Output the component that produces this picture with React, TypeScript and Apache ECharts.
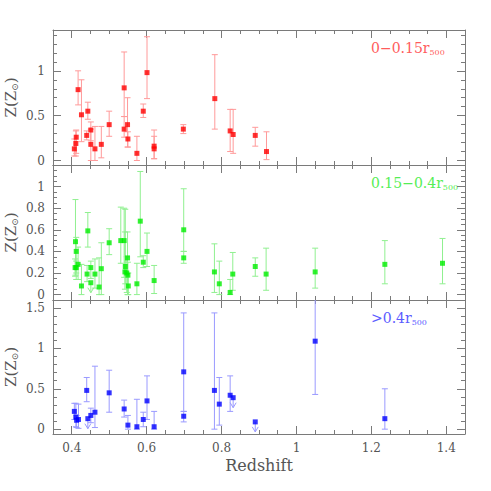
import React, { useEffect, useRef } from "react";
import * as echarts from "echarts";

// [redshift, Z, lowErr, highErr]
const coreData: number[][] = [
  [0.407, 0.13, 0.05, 0.24], [0.411, 0.19, 0.05, 0.33], [0.412, 0.26, 0.08, 0.34],
  [0.417, 0.79, 0.62, 1.0], [0.426, 0.51, 0.21, 0.9], [0.44, 0.28, 0.23, 0.33],
  [0.443, 0.55, 0.46, 0.65], [0.451, 0.18, 0.0, 0.35], [0.451, 0.34, 0.22, 0.43],
  [0.462, 0.13, 0.0, 0.38], [0.479, 0.18, 0.03, 0.38], [0.5, 0.4, 0.27, 0.55],
  [0.54, 0.81, 0.49, 1.21], [0.54, 0.35, 0.26, 0.49], [0.549, 0.4, 0.15, 0.7],
  [0.55, 0.24, 0.15, 0.32], [0.574, 0.08, 0.0, 0.27], [0.591, 0.55, 0.48, 0.63],
  [0.601, 0.98, 0.69, 1.38], [0.62, 0.16, 0.02, 0.34], [0.62, 0.13, 0.02, 0.27],
  [0.698, 0.35, 0.3, 0.4], [0.782, 0.69, 0.35, 1.18], [0.823, 0.33, 0.1, 0.57],
  [0.831, 0.29, 0.08, 0.57], [0.89, 0.28, 0.16, 0.37], [0.92, 0.1, 0.01, 0.32],
];
const coreLimits: number[][] = [];

const midData: number[][] = [
  [0.409, 0.25, 0.17, 0.33], [0.41, 0.49, 0.18, 0.88], [0.412, 0.4, 0.14, 0.53],
  [0.412, 0.25, 0.2, 0.31], [0.417, 0.28, 0.14, 0.44], [0.426, 0.08, 0.0, 0.28],
  [0.441, 0.19, 0.12, 0.27], [0.443, 0.59, 0.44, 0.76], [0.451, 0.25, 0.15, 0.31],
  [0.462, 0.19, 0.06, 0.33], [0.473, 0.07, 0.0, 0.34], [0.479, 0.24, 0.0, 0.48],
  [0.5, 0.48, 0.37, 0.61], [0.531, 0.5, 0.29, 0.81], [0.54, 0.5, 0.16, 0.8],
  [0.543, 0.26, 0.1, 0.79], [0.542, 0.21, 0.05, 0.58], [0.547, 0.2, 0.02, 0.35],
  [0.549, 0.34, 0.0, 0.58], [0.55, 0.18, 0.0, 0.3], [0.551, 0.08, 0.0, 0.2],
  [0.574, 0.1, 0.0, 0.29], [0.583, 0.68, 0.35, 1.14], [0.591, 0.3, 0.25, 0.36],
  [0.601, 0.4, 0.26, 0.57], [0.62, 0.13, 0.01, 0.27], [0.699, 0.34, 0.29, 0.4],
  [0.699, 0.6, 0.4, 0.98], [0.781, 0.21, 0.02, 0.47], [0.794, 0.1, 0.0, 0.31],
  [0.823, 0.02, 0.0, 0.14], [0.83, 0.19, 0.04, 0.39], [0.89, 0.26, 0.17, 0.34],
  [0.919, 0.19, 0.04, 0.43], [1.05, 0.21, 0.06, 0.43], [1.236, 0.28, 0.1, 0.5],
  [1.39, 0.29, 0.1, 0.52],
];
const midLimits: number[][] = [[0.451, 0.11]];

const outerData: number[][] = [
  [0.407, 0.22, 0.12, 0.32], [0.411, 0.15, 0.03, 0.32], [0.413, 0.11, 0.02, 0.17],
  [0.418, 0.12, 0.01, 0.31], [0.44, 0.48, 0.34, 0.64], [0.451, 0.17, 0.08, 0.26],
  [0.462, 0.21, 0.02, 0.78], [0.5, 0.45, 0.21, 0.73], [0.54, 0.25, 0.15, 0.36],
  [0.55, 0.05, 0.0, 0.17], [0.574, 0.03, 0.0, 0.37], [0.591, 0.12, 0.03, 0.21],
  [0.601, 0.35, 0.12, 0.66], [0.62, 0.03, 0.0, 0.22], [0.699, 0.16, 0.09, 0.22],
  [0.699, 0.71, 0.22, 1.44], [0.781, 0.48, 0.0, 1.44], [0.794, 0.31, 0.05, 0.64],
  [0.823, 0.42, 0.22, 0.66], [1.05, 1.09, 0.43, 1.7], [1.236, 0.13, 0.0, 0.5],
];
const outerLimits: number[][] = [[0.443, 0.13], [0.831, 0.39], [0.89, 0.09]];

const xMajorTicks = [0.4, 0.6, 0.8, 1, 1.2, 1.4];
const yMajorTicks = [
  [0, 0.5, 1],
  [0, 0.2, 0.4, 0.6, 0.8, 1],
  [0, 0.5, 1, 1.5],
];
const panelLabels = ["0\u22120.15r", "0.15\u22120.4r", ">0.4r"];

const FONT = "DejaVu Serif";
const AXIS = "#7a7a7a";
const TXT = "#555555";

function steps(a: number, b: number, s: number) {
  const out: number[] = [];
  const n = Math.round((b - a) / s);
  for (let i = 0; i <= n; i++) out.push(+(a + s * i).toFixed(3));
  return out;
}

export default function App() {
  const ref = useRef<HTMLDivElement>(null);
  useEffect(() => {
    if (!ref.current) return;
    const chart = echarts.init(ref.current, undefined, { renderer: "svg" });
    const grids = [
      { left: 53, top: 30, width: 412, height: 135 },
      { left: 53, top: 165, width: 412, height: 135 },
      { left: 53, top: 300, width: 412, height: 134 },
    ];
    const yRanges = [
      [-0.05, 1.455],
      [-0.05, 1.2],
      [-0.06, 1.6],
    ];
    const yMinor = [steps(0, 1.4, 0.1), steps(0, 1.15, 0.05), steps(0, 1.6, 0.1)];
    const xMinor = steps(0.35, 1.45, 0.05);
    const colors = [
      { pt: "#ff0000", err: "#ff9a9a", txt: "#ff5c5c" },
      { pt: "#00ee00", err: "#90f090", txt: "#55ee55" },
      { pt: "#0000ff", err: "#9a9aff", txt: "#5c5cff" },
    ];
    const datas = [coreData, midData, outerData];
    const limits = [coreLimits, midLimits, outerLimits];

    const xAxis: any[] = [];
    const yAxis: any[] = [];
    const series: any[] = [];
    const graphic: any[] = [];

    grids.forEach((g, i) => {
      const baseX = { type: "value", gridIndex: i, min: 0.35, max: 1.45, splitLine: { show: false } };
      const baseY = { type: "value", gridIndex: i, min: yRanges[i][0], max: yRanges[i][1], splitLine: { show: false } };
      ["bottom", "top"].forEach((pos) => {
        xAxis.push({
          ...baseX, position: pos,
          axisLine: { show: true, onZero: false, lineStyle: { color: AXIS, width: 1 } },
          axisTick: { show: true, inside: true, length: 4, customValues: xMinor, lineStyle: { color: AXIS } },
          axisLabel: { show: false },
        });
        xAxis.push({
          ...baseX, position: pos,
          axisLine: { show: false, onZero: false },
          axisTick: { show: true, inside: true, length: 8, customValues: xMajorTicks, lineStyle: { color: AXIS } },
          axisLabel: {
            show: pos === "bottom" && i === 2, customValues: xMajorTicks, margin: 8,
            color: TXT, fontFamily: FONT, fontSize: 12,
          },
        });
      });
      ["left", "right"].forEach((pos) => {
        yAxis.push({
          ...baseY, position: pos,
          axisLine: { show: true, onZero: false, lineStyle: { color: AXIS, width: 1 } },
          axisTick: { show: true, inside: true, length: 4, customValues: yMinor[i], lineStyle: { color: AXIS } },
          axisLabel: { show: false },
        });
        yAxis.push({
          ...baseY, position: pos,
          axisLine: { show: false, onZero: false },
          axisTick: { show: true, inside: true, length: 8, customValues: yMajorTicks[i], lineStyle: { color: AXIS } },
          axisLabel: {
            show: pos === "left", customValues: yMajorTicks[i], margin: 8,
            color: TXT, fontFamily: FONT, fontSize: 12,
          },
        });
      });
      const xi = i * 4 + 1;
      const yi = i * 4 + 1;
      const c = colors[i];
      series.push({
        type: "custom", xAxisIndex: xi, yAxisIndex: yi, clip: true,
        data: datas[i],
        encode: { x: 0, y: [1, 2, 3] },
        renderItem: (params: any, api: any) => {
          const x = api.value(0);
          const lo = api.coord([x, api.value(2)]);
          const hi = api.coord([x, api.value(3)]);
          const w = 3;
          const st = { stroke: c.err, lineWidth: 1 };
          return {
            type: "group",
            children: [
              { type: "line", shape: { x1: lo[0], y1: lo[1], x2: hi[0], y2: hi[1] }, style: st },
              { type: "line", shape: { x1: lo[0] - w, y1: lo[1], x2: lo[0] + w, y2: lo[1] }, style: st },
              { type: "line", shape: { x1: hi[0] - w, y1: hi[1], x2: hi[0] + w, y2: hi[1] }, style: st },
            ],
          };
        },
        z: 2,
      });
      series.push({
        type: "custom", xAxisIndex: xi, yAxisIndex: yi, clip: true,
        data: limits[i],
        encode: { x: 0, y: 1 },
        renderItem: (params: any, api: any) => {
          const p = api.coord([api.value(0), api.value(1)]);
          const st = { stroke: c.err, lineWidth: 1, fill: "none" };
          return {
            type: "group",
            children: [
              { type: "line", shape: { x1: p[0], y1: p[1], x2: p[0], y2: p[1] + 10 }, style: st },
              { type: "polyline", shape: { points: [[p[0] - 3, p[1] + 5], [p[0], p[1] + 10], [p[0] + 3, p[1] + 5]] }, style: st },
            ],
          };
        },
        z: 2,
      });
      series.push({
        type: "scatter", xAxisIndex: xi, yAxisIndex: yi,
        data: datas[i].map((d) => [d[0], d[1]]).concat(limits[i].map((d) => [d[0], d[1]])),
        symbol: "rect", symbolSize: 5,
        itemStyle: { color: c.pt },
        z: 3,
      });
      graphic.push({
        type: "text", x: 371, y: [48, 183, 318][i],
        style: {
          text: `{a|${panelLabels[i]}}{b|500}`,
          verticalAlign: "middle",
          rich: {
            a: { fontFamily: FONT, fontSize: 14, fill: c.txt, color: c.txt },
            b: { fontFamily: FONT, fontSize: 8, fill: c.txt, color: c.txt, padding: [8, 0, 0, 0] },
          },
        },
      });
      graphic.push({
        type: "text", x: 11, y: g.top + g.height / 2, rotation: Math.PI / 2,
        style: {
          text: "{a|Z(Z}{b|\u2299}{a|)}",
          align: "center", verticalAlign: "middle",
          rich: {
            a: { fontFamily: FONT, fontSize: 15, fill: TXT, color: TXT },
            b: { fontFamily: FONT, fontSize: 9, fill: TXT, color: TXT, padding: [7, 0, 0, 0] },
          },
        },
      });
    });
    graphic.push({
      type: "text", x: 259, y: 465,
      style: { text: "Redshift", align: "center", verticalAlign: "middle", fontFamily: FONT, fontSize: 16, fill: TXT },
    });

    chart.setOption({
      animation: false,
      backgroundColor: "#ffffff",
      grid: grids,
      xAxis,
      yAxis,
      series,
      graphic,
    });
    return () => chart.dispose();
  }, []);
  return <div ref={ref} style={{ position: "fixed", left: 0, top: 0, width: 491, height: 491 }} />;
}
